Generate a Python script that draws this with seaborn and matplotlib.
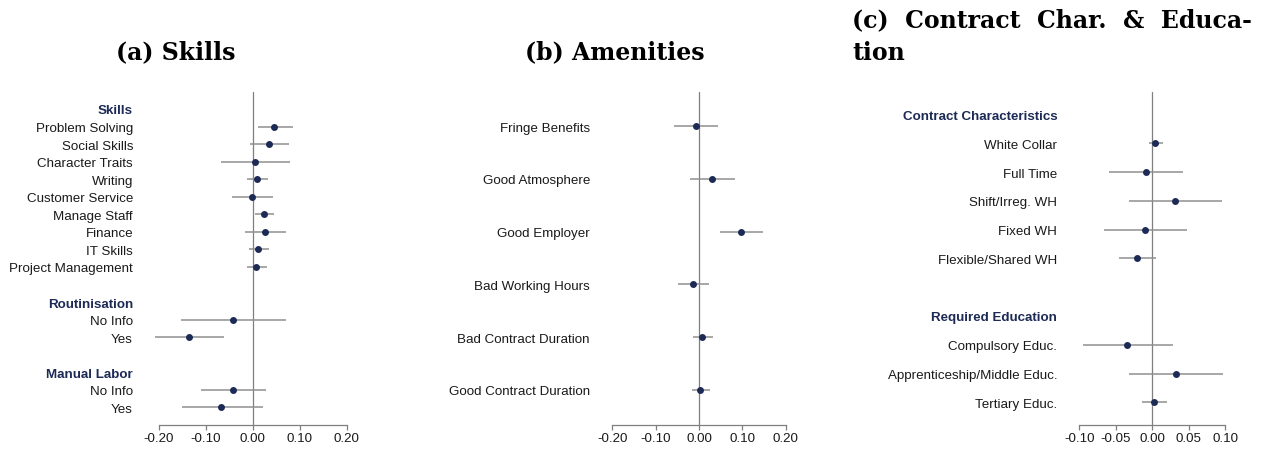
import numpy as np
import matplotlib
matplotlib.use("Agg")
import matplotlib.pyplot as plt
import seaborn as sns
import pandas as pd

# panel (a) skills
a_labels = ["Skills", "Problem Solving", "Social Skills", "Character Traits", "Writing",
            "Customer Service", "Manage Staff", "Finance", "IT Skills", "Project Management",
            "", "Routinisation", "No Info", "Yes", "", "Manual Labor", "No Info", "Yes"]
a_est = [np.nan, 0.046, 0.035, 0.004, 0.010, -0.002, 0.025, 0.026, 0.012, 0.007,
         np.nan, np.nan, -0.042, -0.135, np.nan, np.nan, -0.042, -0.067]
a_lo = [np.nan, 0.012, -0.005, -0.068, -0.011, -0.044, 0.006, -0.016, -0.008, -0.013,
        np.nan, np.nan, -0.153, -0.207, np.nan, np.nan, -0.109, -0.151]
a_hi = [np.nan, 0.085, 0.077, 0.079, 0.033, 0.043, 0.046, 0.071, 0.035, 0.030,
        np.nan, np.nan, 0.070, -0.060, np.nan, np.nan, 0.028, 0.021]
a_headers = ["Skills", "Routinisation", "Manual Labor"]

# panel (b) amenities
b_labels = ["Fringe Benefits", "Good Atmosphere", "Good Employer", "Bad Working Hours",
            "Bad Contract Duration", "Good Contract Duration"]
b_est = [-0.008, 0.030, 0.096, -0.014, 0.007, 0.003]
b_lo = [-0.057, -0.021, 0.049, -0.048, -0.015, -0.017]
b_hi = [0.043, 0.083, 0.147, 0.024, 0.033, 0.025]
b_headers = []

# panel (c) contract characteristics & education
c_labels = ["Contract Characteristics", "White Collar", "Full Time", "Shift/Irreg. WH",
            "Fixed WH", "Flexible/Shared WH", "", "Required Education", "Compulsory Educ.",
            "Apprenticeship/Middle Educ.", "Tertiary Educ."]
c_est = [np.nan, 0.004, -0.009, 0.031, -0.010, -0.021, np.nan, np.nan, -0.034, 0.032, 0.002]
c_lo = [np.nan, -0.004, -0.059, -0.032, -0.066, -0.045, np.nan, np.nan, -0.095, -0.032, -0.014]
c_hi = [np.nan, 0.014, 0.042, 0.096, 0.048, 0.005, np.nan, np.nan, 0.028, 0.097, 0.020]
c_headers = ["Contract Characteristics", "Required Education"]

ab_ticks = [-0.2, -0.1, 0.0, 0.1, 0.2]
c_ticks = [-0.1, -0.05, 0.0, 0.05, 0.1]

navy = "#1c2a55"
bar_grey = "#8f8f8f"
line_grey = "#7f7f7f"

sns.set_style("white")
plt.rcParams["font.family"] = ["Liberation Sans", "DejaVu Sans"]
plt.rcParams["axes.unicode_minus"] = False

fig = plt.figure(figsize=(12.71, 4.52), dpi=100)


def coef_panel(rect, labels, est, lo, hi, headers, xlim, ylim, ticks, pad):
    ax = fig.add_axes(rect)
    df = pd.DataFrame({"label": labels, "est": est, "lo": lo, "hi": hi})
    df["pos"] = np.arange(len(df))
    pts = df.dropna()
    ax.axvline(0, color=line_grey, lw=0.9, zorder=1)
    ax.hlines(pts["pos"], pts["lo"], pts["hi"], color=bar_grey, lw=1.1, zorder=2)
    sns.scatterplot(data=pts, x="est", y="pos", ax=ax, color=navy, s=25,
                    edgecolor=navy, linewidth=0, zorder=3, legend=False)
    ax.set_xlim(*xlim)
    ax.set_ylim(*ylim)
    ax.set_yticks(df["pos"])
    ax.set_yticklabels(df["label"])
    for t in ax.get_yticklabels():
        if t.get_text() in headers:
            t.set_fontweight("bold")
            t.set_fontsize(8.8)
            t.set_color(navy)
        else:
            t.set_color("#1a1a1a")
    ax.set_xticks(ticks)
    ax.set_xticklabels(["%.2f" % v for v in ticks])
    ax.tick_params(axis="y", length=0, pad=pad, labelsize=9.6)
    ax.tick_params(axis="x", length=3.6, width=0.9, color=line_grey, pad=1.5,
                   labelsize=9.6, labelcolor="#1a1a1a", bottom=True)
    sns.despine(ax=ax, left=True, top=True, right=True)
    ax.spines["bottom"].set_bounds(ticks[0], ticks[-1])
    ax.spines["bottom"].set_color(line_grey)
    ax.spines["bottom"].set_linewidth(0.9)
    ax.set_xlabel("")
    ax.set_ylabel("")
    ax.grid(False)
    return ax


coef_panel([0.11744, 0.0582, 0.16271, 0.7361], a_labels, a_est, a_lo, a_hi, a_headers,
           (-0.22, 0.22), (17.99, -0.97), ab_ticks, 11.7)
coef_panel([0.47498, 0.0582, 0.15004, 0.7361], b_labels, b_est, b_lo, b_hi, b_headers,
           (-0.22, 0.22), (5.66, -0.65), ab_ticks, 9.9)
coef_panel([0.84343, 0.0582, 0.12636, 0.7361], c_labels, c_est, c_lo, c_hi, c_headers,
           (-0.11, 0.11), (10.78, -0.79), c_ticks, 10.6)

# subfigure captions (LaTeX style bold serif, first line of (c) is justified)
title_kw = dict(family=["DejaVu Serif"], weight="bold", size=17, color="black")
fig.text(176 / 1271, 1 - 59.5 / 452, "(a) Skills", ha="center", va="baseline", **title_kw)
fig.text(615 / 1271, 1 - 59.5 / 452, "(b) Amenities", ha="center", va="baseline", **title_kw)
fig.text(852 / 1271, 1 - 27 / 452, "(c)  Contract  Char.  &  Educa-", ha="left", va="baseline", **title_kw)
fig.text(852 / 1271, 1 - 59.5 / 452, "tion", ha="left", va="baseline", **title_kw)

fig.savefig("out.png", dpi=100)
